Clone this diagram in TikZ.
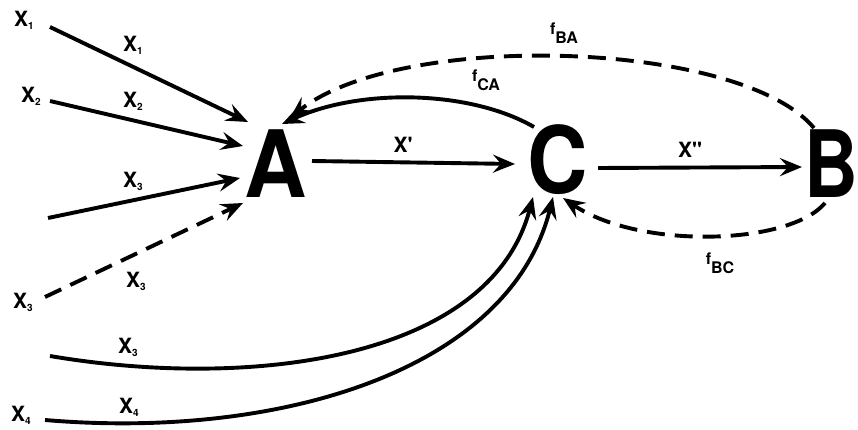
\documentclass[tikz,border=0pt]{standalone}
\usepackage{fontspec}
\setmainfont{TeX Gyre Heros}
\usetikzlibrary{arrows.meta}
\newcommand\xsub[1]{X\raisebox{-3pt}{\fontsize{10}{10}\selectfont #1}}
\newcommand\fsub[1]{f\raisebox{-9pt}{\fontsize{16}{16}\selectfont #1}}
\begin{document}
\begin{tikzpicture}[x=1pt,y=-1pt,
  big/.style={font=\fontsize{93}{93}\selectfont\bfseries, inner sep=0pt},
  lab/.style={font=\fontsize{21}{21}\selectfont\bfseries, inner sep=0pt},
  flab/.style={font=\fontsize{16}{16}\selectfont\bfseries, inner sep=0pt},
  conn/.style={line width=3.9pt, -{Stealth[length=22pt,width=18pt,inset=8pt]}},
  dsh/.style={dash pattern=on 18pt off 10pt},
]
\useasboundingbox (0,0) rectangle (858,430);
% main nodes
\node[big] (A) at (276,164) {\scalebox{0.93}[1]{A}};
\node[big] (C) at (558,160) {\scalebox{0.9}[1]{C}};
\node[big] (B) at (831,164) {\scalebox{0.8}[1]{B}};
% free ends
\coordinate (s1) at (50,27);
\coordinate (s2) at (50,101);
\coordinate (s3) at (48,218);
\coordinate (s3d) at (45,297);
\coordinate (s3c) at (50,356);
\coordinate (s4) at (45,420);
% left labels
\node[lab] (l1) at (24,20) {\xsub{1}};
\node[lab] (l2) at (31,96) {\xsub{2}};
\node[lab] (l3) at (23,302) {\xsub{3}};
\node[lab] (l4) at (21,415) {\xsub{4}};
% arrow labels
\node[lab] (a1) at (133,45) {\xsub{1}};
\node[lab] (a2) at (133,101) {\xsub{2}};
\node[lab] (a3) at (133,181) {\xsub{3}};
\node[lab] (a3d) at (136,281) {\xsub{3}};
\node[lab] (a3c) at (128,347) {\xsub{3}};
\node[lab] (a4) at (129,407) {\xsub{4}};
\node[lab] (xp) at (403,145) {X\textquotesingle};
\node[lab] (xpp) at (690,150) {X\textquotesingle\textquotesingle};
\node[flab] (fba) at (564,33) {\fsub{BA}};
\node[flab] (fca) at (486,80) {\fsub{CA}};
\node[flab] (fbc) at (720,263) {\fsub{BC}};
% connectors into A
\draw[conn] (s1) -- ([shift={(-28,-42)}]A.center);
\draw[conn] (s2) -- ([shift={(-33,-18)}]A.center);
\draw[conn] (s3) -- ([shift={(-36,14)}]A.center);
\draw[conn,dsh] (s3d) -- ([shift={(-33,39)}]A.center);
% A -> C -> B
\draw[conn] ([shift={(36,-3)}]A.center) -- ([shift={(-43,4)}]C.center);
\draw[conn] ([shift={(40,8)}]C.center) -- ([shift={(-29,3)}]B.center);
% feedback
\draw[conn] ([shift={(-24,-33)}]C.center) .. controls (470,90) and (360,88) .. ([shift={(6,-40)}]A.center);
\draw[conn,dsh] ([shift={(-17,-36)}]B.center) .. controls (740,40) and (400,30) .. ([shift={(14,-46)}]A.center);
\draw[conn,dsh] ([shift={(-6,39)}]B.center) .. controls (790,245) and (640,250) .. ([shift={(5,38)}]C.center);
% curves into C
\draw[conn] (s3c) .. controls (250,390) and (490,360) .. ([shift={(-25,37)}]C.center);
\draw[conn] (s4) .. controls (280,440) and (510,370) .. ([shift={(-5,37)}]C.center);
\end{tikzpicture}
\end{document}
